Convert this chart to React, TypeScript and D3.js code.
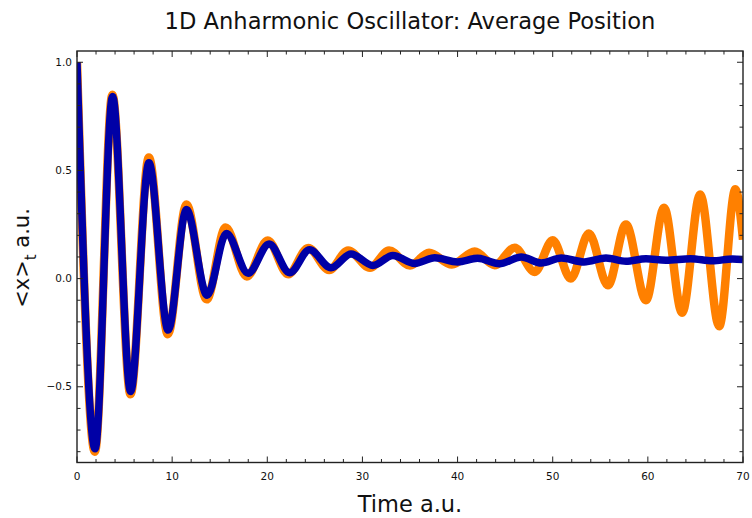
import React from "react";
import * as d3 from "d3";

// extrema (time, <x>)
const orangeT = [0, 1.88, 3.72, 5.62, 7.55, 9.55, 11.5, 13.62, 15.62, 17.85, 20.05, 22.2, 24.3, 26.5, 28.5, 30.8, 32.8, 35.0, 37.0, 39.4, 41.8, 43.9, 46.0, 48.1, 50.0, 51.9, 53.8, 55.8, 57.7, 59.8, 61.7, 63.6, 65.5, 67.5, 69.2, 70];
const orangeX = [1.0, -0.8, 0.85, -0.535, 0.56, -0.257, 0.342, -0.096, 0.236, 0.01, 0.176, 0.02, 0.142, 0.04, 0.13, 0.05, 0.13, 0.06, 0.12, 0.065, 0.125, 0.062, 0.143, 0.031, 0.177, 0.0, 0.208, -0.031, 0.25, -0.1, 0.328, -0.158, 0.389, -0.22, 0.413, 0.18];

const blueT = [0, 1.9, 3.74, 5.63, 7.56, 9.58, 11.5, 13.68, 15.7, 17.98, 20.2, 22.35, 24.45, 26.7, 28.8, 31.1, 33.2, 35.5, 37.6, 40.0, 42.1, 44.4, 46.7, 48.8, 50.9, 53.3, 55.6, 57.7, 59.8, 61.9, 64.5, 66.8, 68.9, 70];
const blueX = [1.0, -0.787, 0.842, -0.522, 0.535, -0.238, 0.319, -0.077, 0.209, 0.025, 0.16, 0.027, 0.133, 0.05, 0.114, 0.061, 0.107, 0.07, 0.096, 0.077, 0.094, 0.069, 0.1, 0.072, 0.095, 0.077, 0.095, 0.08, 0.092, 0.085, 0.092, 0.082, 0.091, 0.088];

const xTicks = [0, 10, 20, 30, 40, 50, 60, 70];
const yTicks = [-0.5, 0, 0.5, 1.0];
const yTickLabels = ["\u22120.5", "0.0", "0.5", "1.0"];

const W = 752;
const H = 518;
const left = 77, right = 743, top = 51, bottom = 462.5;
const font = "'DejaVu Sans', sans-serif";

export default function App() {
  const x = d3.scaleLinear().domain([0, 70]).range([left, right]);
  const y = d3.scaleLinear().domain([-0.85, 1.052]).range([bottom, top]);

  const orangePath = d3
    .line<number>()
    .x((_, i) => x(orangeT[i]))
    .y((d) => y(d))
    .curve(d3.curveMonotoneX)(orangeX);
  const bluePath = d3
    .line<number>()
    .x((_, i) => x(blueT[i]))
    .y((d) => y(d))
    .curve(d3.curveMonotoneX)(blueX);

  const xMinor = d3.range(0, 70.01, 2);
  const yMinor = d3.range(-0.8, 1.01, 0.1);

  return (
    <div style={{ position: "absolute", left: 0, top: 0 }}>
      <svg width={W} height={H} style={{ display: "block", background: "#fff" }}>
        <defs>
          <clipPath id="plot">
            <rect x={left} y={top} width={right - left} height={bottom - top} />
          </clipPath>
        </defs>
        <g clipPath="url(#plot)">
          <path d={orangePath || ""} fill="none" stroke="#ff8000" strokeWidth={8.5} strokeLinejoin="round" />
          <path d={bluePath || ""} fill="none" stroke="#0000a6" strokeWidth={7.5} strokeLinejoin="round" />
        </g>

        {/* ticks */}
        <g stroke="#222" strokeWidth={1}>
          {xMinor.map((t) => {
            const major = Math.abs(t % 10) < 1e-6;
            const len = major ? 6 : 3.5;
            return (
              <g key={"xt" + t}>
                <line x1={x(t)} x2={x(t)} y1={bottom} y2={bottom - len} />
                <line x1={x(t)} x2={x(t)} y1={top} y2={top + len} />
              </g>
            );
          })}
          {yMinor.map((v) => {
            const major = Math.abs(Math.round(v * 10) % 5) === 0;
            const len = major ? 6 : 3.5;
            return (
              <g key={"yt" + v.toFixed(1)}>
                <line x1={left} x2={left + len} y1={y(v)} y2={y(v)} />
                <line x1={right} x2={right - len} y1={y(v)} y2={y(v)} />
              </g>
            );
          })}
        </g>
        <rect x={left} y={top} width={right - left} height={bottom - top} fill="none" stroke="#222" strokeWidth={1.4} />

        {/* tick labels */}
        <g fontFamily={font} fontSize={10.5} fill="#111">
          {xTicks.map((t) => (
            <text key={"xl" + t} x={x(t)} y={bottom + 17} textAnchor="middle">
              {t}
            </text>
          ))}
          {yTicks.map((v, i) => (
            <text key={"yl" + v} x={left - 5} y={y(v) + 3.5} textAnchor="end">
              {yTickLabels[i]}
            </text>
          ))}
        </g>

        <text x={410} y={29} textAnchor="middle" fontFamily={font} fontSize={22.6} fill="#111">
          1D Anharmonic Oscillator: Average Position
        </text>
        <text x={410} y={512} textAnchor="middle" fontFamily={font} fontSize={22.5} fill="#111">
          Time a.u.
        </text>
        <text transform="translate(29,258) rotate(-90)" textAnchor="middle" fontFamily={font} fontSize={21} fill="#111">
          {"<x>"}
          <tspan fontSize={15} dy={7}>t</tspan>
          <tspan dy={-7}> a.u.</tspan>
        </text>
      </svg>
    </div>
  );
}
